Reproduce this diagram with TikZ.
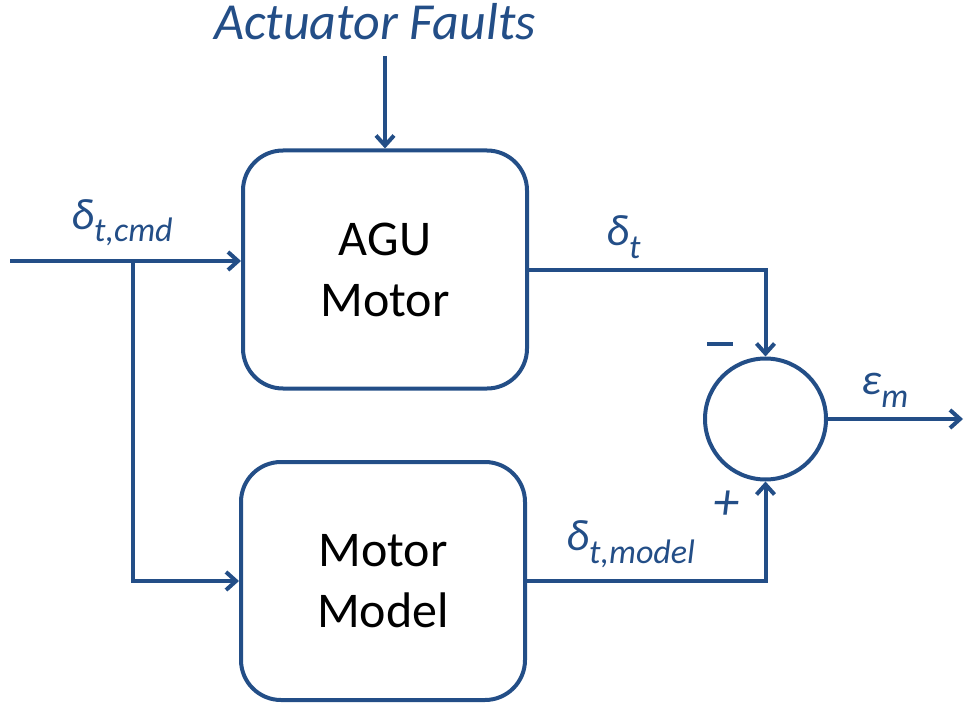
\documentclass[tikz,border=0pt]{standalone}
\usepackage{fontspec}
\setmainfont{Carlito}
\usetikzlibrary{arrows.meta}

\definecolor{lineblue}{RGB}{35,78,135}
% lowered subscript in the label font
\newcommand{\lowsub}[1]{\raisebox{-13pt}{\fontsize{34}{36}\selectfont #1}}

\begin{document}
\begin{tikzpicture}[x=1pt,y=-1pt,
    block/.style={draw=lineblue, line width=4pt, rounded corners=40pt,
        minimum width=284pt, minimum height=238pt, align=center,
        font=\fontsize{50}{61}\selectfont},
    sumnode/.style={circle, draw=lineblue, line width=4pt, minimum size=121pt, inner sep=0pt},
    lbl/.style={text=lineblue, font=\fontsize{44}{50}\selectfont\itshape, inner sep=0pt},
    sig/.style={draw=lineblue, line width=4pt, -{Straight Barb[length=10pt,width=18pt]}}]
    \useasboundingbox (0,0) rectangle (964,706);

    \node[block] (agu) at (385,269.5) {AGU\\Motor};
    \node[block] (model) at (383,581) {Motor\\Model};
    \node[sumnode] (sum) at (765.5,419) {};

    \coordinate (in) at (10,261);
    \coordinate (br) at (133,261);
    \coordinate (fa) at (385,56);
    \coordinate (out) at (963,419);

    \node[lbl, anchor=base, font=\fontsize{52}{60}\selectfont\itshape] (faults) at (375,40) {Actuator Faults};
    \node[lbl, anchor=base west] (dcmd) at (71,229) {δ\lowsub{t,cmd}};
    \node[lbl, anchor=base west] (dt) at (606,245) {δ\lowsub{t}};
    \node[lbl, anchor=base west] (dmodel) at (566,550) {δ\lowsub{t,model}};
    \node[lbl, anchor=base west] (em) at (861,394) {ε\lowsub{m}};
    \node[lbl] (minus) at (720,344) {\rule{26pt}{3.5pt}};
    \node[lbl, font=\fontsize{52}{60}\selectfont\itshape] (plus) at (726,505) {+};

    \draw[sig] (fa) -- (agu.north);
    \draw[sig] (in) -- (in -| agu.west);
    \draw[sig] (br) |- (model.west);
    \draw[sig] (agu.east) -| (sum.north);
    \draw[sig] (model.east) -| (sum.south);
    \draw[sig] (sum.east) -- (out);
\end{tikzpicture}
\end{document}
